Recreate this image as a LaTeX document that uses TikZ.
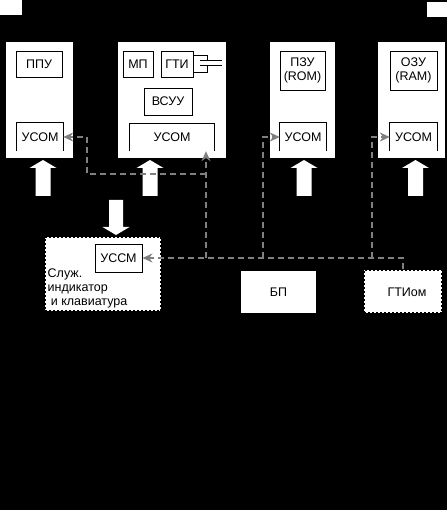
\documentclass[tikz,border=0pt]{standalone}
\usepackage{fontspec}
\setmainfont{Liberation Sans}
\usetikzlibrary{arrows.meta,calc}
\tikzset{
  module/.style={fill=white,draw=none,inner sep=0pt},
  unit/.style={draw=black,line width=0.9pt,fill=white,inner sep=0pt,align=center,font=\fontsize{12.5}{14}\selectfont},
  openunit/.style={draw=none,inner sep=0pt,font=\fontsize{12.5}{14}\selectfont},
  dotbox/.style={fill=white,draw=black,line width=1.2pt,dash pattern=on 2pt off 2pt,inner sep=0pt},
  plainbox/.style={fill=white,draw=none,inner sep=0pt,font=\fontsize{12.5}{14}\selectfont},
  bus/.style={draw=gray,line width=2pt,dash pattern=on 6pt off 4pt},
  bustip/.style={-{Stealth[length=10pt,width=9pt]}},
  blockarrow/.style={fill=white}
}
\newcommand{\uparrowblock}[3]{%
  \fill[blockarrow] (#1,#2) -- ({#1+13.5},{#2+8}) -- ({#1+7.5},{#2+8}) -- ({#1+7.5},#3)
    -- ({#1-7.5},#3) -- ({#1-7.5},{#2+8}) -- ({#1-13.5},{#2+8}) -- cycle;}
\begin{document}
\begin{tikzpicture}[x=1pt,y=-1pt]
\fill[black] (0,0) rectangle (447,510);
\useasboundingbox (0,0) rectangle (447,510);
\fill[white] (0,0) rectangle (22,15);
\fill[white] (427,2) rectangle (447,17);

% modules
\node[module,minimum width=67pt,minimum height=116pt] (b1) at (39.5,100) {};
\node[module,minimum width=108pt,minimum height=116pt] (b2) at (172,100) {};
\node[module,minimum width=65pt,minimum height=116pt] (b3) at (302.5,100) {};
\node[module,minimum width=67pt,minimum height=116pt] (b4) at (411.5,100) {};

% module 1
\node[unit,minimum width=46pt,minimum height=26pt] (ppu) at (39,64) {ППУ};
\node[openunit,minimum width=46pt,minimum height=28pt] (u1) at (40,137) {УСОМ};
\draw[line width=0.9pt] (u1.south west) |- (u1.north east) -- (u1.south east);

% module 2
\node[unit,minimum width=30pt,minimum height=26pt] (mp) at (138,64) {МП};
\node[unit,minimum width=32pt,minimum height=26pt] (gti) at (177,64) {ГТИ};
\node[unit,minimum width=48pt,minimum height=27pt] (vsuu) at (168,101.5) {ВСУУ};
\node[openunit,minimum width=84pt,minimum height=27pt] (u2) at (172,137.5) {УСОМ};
\draw[line width=0.9pt] (u2.south west) |- (u2.north east) -- (u2.south east);
% crystal
\draw[line width=0.9pt] (gti.east |- 0,55) -- (207,55) -- (207,60.5);
\draw[line width=0.9pt] (gti.east |- 0,72) -- (207,72) -- (207,65.5);
\draw[line width=0.9pt] (200,60.5) -- (222,60.5);
\draw[line width=0.9pt] (200,65.5) -- (222,65.5);

% module 3
\node[unit,minimum width=45pt,minimum height=39pt] (rom) at (302.5,70.5) {ПЗУ\\(ROM)};
\node[openunit,minimum width=46pt,minimum height=28pt] (u3) at (303,137) {УСОМ};
\draw[line width=0.9pt] (u3.south west) |- (u3.north east) -- (u3.south east);

% module 4
\node[unit,minimum width=47pt,minimum height=39pt] (ram) at (413.5,70.5) {ОЗУ\\(RAM)};
\node[openunit,minimum width=47pt,minimum height=28pt] (u4) at (413.5,137) {УСОМ};
\draw[line width=0.9pt] (u4.south west) |- (u4.north east) -- (u4.south east);

% block arrows
\uparrowblock{43}{160}{196}
\uparrowblock{150}{160}{196}
\uparrowblock{304}{160}{196}
\uparrowblock{415.5}{160}{196}
\fill[blockarrow] (116,235) -- (129.5,227) -- (123,227) -- (123,200) -- (109,200) -- (109,227) -- (102.5,227) -- cycle;

% lower boxes
\node[dotbox,minimum width=116pt,minimum height=74pt] (svc) at (103,274) {};
\node[unit,minimum width=47pt,minimum height=28pt] (ussm) at (118.5,258) {УССМ};
\node[anchor=north west,inner sep=0pt,align=left,font=\fontsize{12.5}{14}\selectfont] (svctext) at (47.5,268.5) {Служ.\\индикатор\\\hspace{0.25em}и клавиатура};
\node[plainbox,minimum width=75pt,minimum height=42pt] (bp) at (278.5,292) {БП};
\node[dotbox,minimum width=78pt,minimum height=43pt] (gtiom) at (403,291.5) {};
\node[font=\fontsize{12.5}{14}\selectfont] (gtiomt) at (407,292) {ГТИом};

% bus connectors
\coordinate (j2) at (206,258);
\coordinate (j3) at (263,258);
\coordinate (j4) at (372,258);
\coordinate (k1) at (206,174);
\draw[bus,bustip] (gtiom.north) |- (ussm.east);
\draw[bus,bustip] (j2) -- (j2 |- u2.south);
\draw[bus,bustip] (k1) -- (87,174) |- (u1.east);
\draw[bus,bustip,line width=2.6pt] (j3) |- (u3.west);
\draw[bus,bustip,line width=1.3pt] (j4) |- (u4.west);
\end{tikzpicture}
\end{document}
